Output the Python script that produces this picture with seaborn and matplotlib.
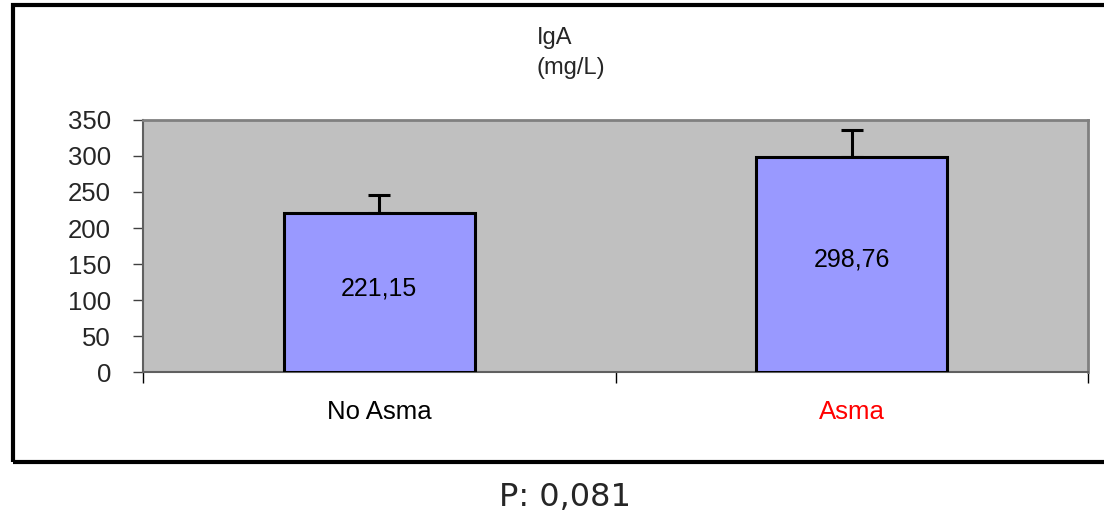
import numpy as np
import pandas as pd
import matplotlib
matplotlib.use("Agg")
import matplotlib.pyplot as plt
import seaborn as sns
from matplotlib.patches import Rectangle

# chart data
groups = ["No Asma", "Asma"]
means = [221.15, 298.76]
errors = [25.0, 37.0]
value_labels = ["221,15", "298,76"]
label_colors = ["black", "red"]
y_ticks = [0, 50, 100, 150, 200, 250, 300, 350]

df = pd.DataFrame({"grupo": groups, "IgA": means})

sns.set_style("white")
plt.rcParams["font.family"] = ["Liberation Sans", "DejaVu Sans"]

fig = plt.figure(figsize=(11.04, 5.22), dpi=100)
ax = fig.add_axes([143 / 1104, 150 / 522, 945 / 1104, 252 / 522])
ax.set_facecolor("#C0C0C0")

sns.barplot(data=df, x="grupo", y="IgA", color="#9999FF", width=0.405,
            edgecolor="black", linewidth=2.2, saturation=1, ax=ax, zorder=3)

# upper error bars only
ax.errorbar(x=np.arange(len(groups)), y=means, yerr=[[0] * len(errors), errors],
            fmt="none", ecolor="black", elinewidth=2.2, capsize=8, capthick=2.2, zorder=2)

for i, (m, lab) in enumerate(zip(means, value_labels)):
    ax.text(i, m * 0.525, lab, ha="center", va="center",
            fontsize=18, color="black", zorder=4)

ax.set_xlim(-0.5, 1.5)
ax.set_ylim(0, 350)
ax.set_yticks(y_ticks)
ax.set_yticklabels([str(t) for t in y_ticks], fontsize=18.5)
ax.tick_params(axis="y", direction="out", length=7, width=1, color="#404040", pad=16, left=True)

ax.set_xticks(range(len(groups)))
ax.set_xticklabels(groups, fontsize=18.5)
for t, c in zip(ax.get_xticklabels(), label_colors):
    t.set_color(c)
ax.tick_params(axis="x", which="major", length=0, pad=20)
ax.set_xticks([-0.5, 0.5, 1.5], minor=True)
ax.tick_params(axis="x", which="minor", direction="out", length=8, width=1, color="black", bottom=True)

ax.set_xlabel("")
ax.set_ylabel("")
for s in ["top", "right"]:
    ax.spines[s].set_color("#808080")
    ax.spines[s].set_linewidth(2)
ax.spines["left"].set_color("#606060")
ax.spines["left"].set_linewidth(1.5)
ax.spines["bottom"].set_color("#606060")
ax.spines["bottom"].set_linewidth(1.5)

fig.text(537 / 1104, 1 - 38 / 522, "IgA", fontsize=17, ha="left", va="center")
fig.text(537 / 1104, 1 - 68 / 522, "(mg/L)", fontsize=17, ha="left", va="center")

# outer frame of the chart
fig.patches.append(Rectangle((13 / 1104, 1 - 462 / 522), 1.2, 457 / 522,
                             transform=fig.transFigure, fill=False,
                             edgecolor="black", linewidth=3))

fig.text(565 / 1104, 1 - 497 / 522, "P: 0,081", fontsize=23, ha="center", va="center",
         family=["DejaVu Sans"])

fig.savefig("out.png", dpi=100)
